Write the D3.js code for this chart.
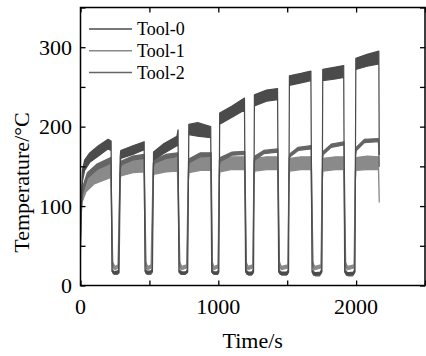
<!DOCTYPE html>
<html>
<head>
<meta charset="utf-8">
<script src="https://cdn.jsdelivr.net/npm/d3@7"></script>
<style>
  body { margin: 0; background: #fff; }
  svg text { font-family: "Liberation Serif", "Times New Roman", serif; fill: #000; }
</style>
</head>
<body>
<figure id="chart" style="margin:0"></figure>
<script>
// [time (s), low, high] of each noisy trace
const tool0 = [
  [0,50,55],[6,100,112],[15,132,146],[30,145,158],[67,155,167],[130,163,176],[200,172,184],[222,170,182],
  [228,18,20],[240,15,17],[262,15,18],[276,16,19],[288,152,162],
  [292,160,170],[380,165,176],[462,171,181],
  [468,18,20],[478,15,18],[505,16,18],[522,17,20],[530,158,168],
  [600,166,178],[700,176,188],[708,180,196],
  [714,17,19],[730,14,17],[765,15,17],[778,17,20],[786,190,203],
  [850,188,205],[945,186,200],
  [952,17,20],[962,15,17],[995,14,17],[1004,17,20],[1010,203,217],
  [1100,212,226],[1190,221,236],
  [1198,17,19],[1210,14,17],[1245,14,17],[1256,17,20],[1262,226,240],
  [1350,232,246],[1430,234,248],
  [1438,17,19],[1450,14,17],[1500,14,17],[1510,17,20],[1516,252,264],
  [1600,255,267],[1672,258,270],
  [1680,17,19],[1692,13,16],[1740,14,17],[1752,17,20],[1758,258,272],
  [1850,260,275],[1910,262,277],
  [1917,17,19],[1930,13,16],[1980,14,17],[1992,17,20],[1998,272,286],
  [2080,276,291],[2165,279,295],[2168,165,170]
];
const tool1 = [
  [0,40,50],[4,85,100],[12,105,120],[40,118,136],[100,128,146],[160,132,150],[220,136,153],
  [232,25,30],[250,20,24],[272,22,26],[286,130,140],
  [292,138,155],[380,142,158],[460,143,160],
  [472,25,30],[488,20,24],[512,22,26],[526,130,140],
  [532,140,157],[620,143,160],[703,144,160],
  [718,25,30],[735,20,24],[770,22,26],[782,130,140],
  [788,142,158],[870,145,161],[946,145,161],
  [956,25,30],[968,20,24],[998,22,26],[1006,130,140],
  [1012,143,159],[1100,146,162],[1190,146,162],
  [1202,25,30],[1215,20,24],[1250,22,26],[1258,130,140],
  [1264,144,160],[1350,146,162],[1430,146,162],
  [1442,25,30],[1458,20,24],[1505,22,26],[1512,130,140],
  [1518,144,160],[1600,146,162],[1672,146,162],
  [1684,25,30],[1700,20,24],[1745,22,26],[1754,130,140],
  [1760,144,160],[1850,146,162],[1910,146,162],
  [1921,25,30],[1938,20,24],[1985,22,26],[1994,130,140],
  [2000,145,161],[2080,146,163],[2162,146,162],[2168,105,110]
];
const tool2 = [
  [0,60,68],[6,95,103],[15,115,123],[50,135,142],[120,146,153],[220,154,161],
  [235,16,19],[245,14,17],[268,14,17],[280,16,19],[290,148,154],
  [300,152,157],[380,158,163],[462,160,165],
  [476,16,19],[484,14,17],[510,14,17],[518,16,19],[528,148,154],
  [538,154,159],[620,160,165],[705,162,167],
  [722,16,19],[738,14,17],[760,14,17],[774,16,19],[784,150,156],
  [792,155,160],[870,162,167],[948,163,167],
  [958,16,19],[970,14,17],[990,14,17],[1000,16,19],[1008,152,158],
  [1014,156,161],[1100,164,168],[1192,165,169],
  [1205,16,19],[1220,13,16],[1240,13,16],[1252,16,19],[1260,152,158],
  [1266,158,163],[1330,166,170],[1432,168,172],
  [1445,16,19],[1460,13,16],[1495,13,16],[1506,16,19],[1514,155,160],
  [1520,162,166],[1580,170,174],[1674,172,176],
  [1688,16,19],[1705,12,15],[1735,12,15],[1748,16,19],[1756,158,163],
  [1762,165,169],[1820,174,178],[1912,177,181],
  [1925,16,19],[1942,12,15],[1975,12,15],[1988,16,19],[1996,162,167],
  [2002,170,174],[2060,180,184],[2162,181,185],[2168,150,155]
];

const seriesNames = ["Tool-0", "Tool-1", "Tool-2"];
const seriesColors = ["#4b4b4b", "#8a8a8a", "#656565"];
const xTicks = [0, 1000, 2000];
const xMinor = [500, 1500, 2500];
const yTicks = [0, 100, 200, 300];
const yMinor = [50, 150, 250, 350];

const width = 426, height = 356;
const mLeft = 80.5, mRight = 425, mTop = 7.5, mBottom = 285.5;

const svg = d3.select("figure#chart")
  .append("svg")
  .attr("width", width)
  .attr("height", height);

const x = d3.scaleLinear().domain([0, 2500]).range([mLeft, mRight]);
const y = d3.scaleLinear().domain([0, 350]).range([mBottom, mTop]);

svg.append("clipPath").attr("id", "clip")
  .append("rect")
  .attr("x", mLeft).attr("y", mTop)
  .attr("width", mRight - mLeft).attr("height", mBottom - mTop);

// Add traces (light one first, darkest on top)
const area = d3.area()
  .x(d => x(d[0]))
  .y0(d => y(d[1]))
  .y1(d => y(d[2]));

const traces = [tool1, tool2, tool0];
const traceColors = [seriesColors[1], seriesColors[2], seriesColors[0]];
const plot = svg.append("g").attr("clip-path", "url(#clip)");
traces.forEach((data, i) => {
  plot.append("path")
    .datum(data)
    .attr("d", area)
    .style("fill", traceColors[i])
    .style("stroke", traceColors[i])
    .style("stroke-width", 1.2)
    .style("stroke-linejoin", "round");
});

// Add axes, ticks point inward on all four sides
const tickLen = 5;
const addX = (pos, dir) => {
  const g = svg.append("g").attr("transform", "translate(0," + pos + ")");
  g.call(d3.axisBottom(x).tickValues(xTicks.concat(xMinor)).tickSize(dir * tickLen).tickFormat(""));
  g.select(".domain").remove();
  g.selectAll("line").style("stroke", "#000").style("stroke-width", 1.3);
};
addX(mBottom, -1);
addX(mTop, 1);

const addY = (pos, dir) => {
  const g = svg.append("g").attr("transform", "translate(" + pos + ",0)");
  g.call(d3.axisLeft(y).tickValues(yTicks.concat(yMinor)).tickSize(dir * tickLen).tickFormat(""));
  g.select(".domain").remove();
  g.selectAll("line").style("stroke", "#000").style("stroke-width", 1.3);
};
addY(mLeft, -1);
addY(mRight, 1);

svg.append("rect")
  .attr("x", mLeft).attr("y", mTop)
  .attr("width", mRight - mLeft).attr("height", mBottom - mTop)
  .style("fill", "none")
  .style("stroke", "#000")
  .style("stroke-width", 1.5);

// Tick labels
svg.append("g").selectAll("text")
  .data(xTicks)
  .enter()
  .append("text")
  .attr("x", d => x(d))
  .attr("y", 314)
  .attr("text-anchor", "middle")
  .style("font-size", "22px")
  .text(d => d);

svg.append("g").selectAll("text")
  .data(yTicks)
  .enter()
  .append("text")
  .attr("x", 72)
  .attr("y", d => y(d) + 7.5)
  .attr("text-anchor", "end")
  .style("font-size", "22px")
  .text(d => d);

// Axis titles
svg.append("text")
  .attr("x", (mLeft + mRight) / 2)
  .attr("y", 348)
  .attr("text-anchor", "middle")
  .style("font-size", "22px")
  .text("Time/s");

svg.append("text")
  .attr("transform", "translate(29," + ((mTop + mBottom) / 2 + 36) + ") rotate(-90)")
  .attr("text-anchor", "middle")
  .style("font-size", "22px")
  .text("Temperature/°C");

// Legend
const legend = svg.append("g");
seriesNames.forEach((name, i) => {
  const ly = 29 + i * 21.8;
  legend.append("line")
    .attr("x1", 89).attr("x2", 132)
    .attr("y1", ly).attr("y2", ly)
    .style("stroke", seriesColors[i])
    .style("stroke-width", 1.5);
  legend.append("text")
    .attr("x", 137)
    .attr("y", ly + 6)
    .style("font-size", "18px")
    .text(name);
});
</script>
</body>
</html>
